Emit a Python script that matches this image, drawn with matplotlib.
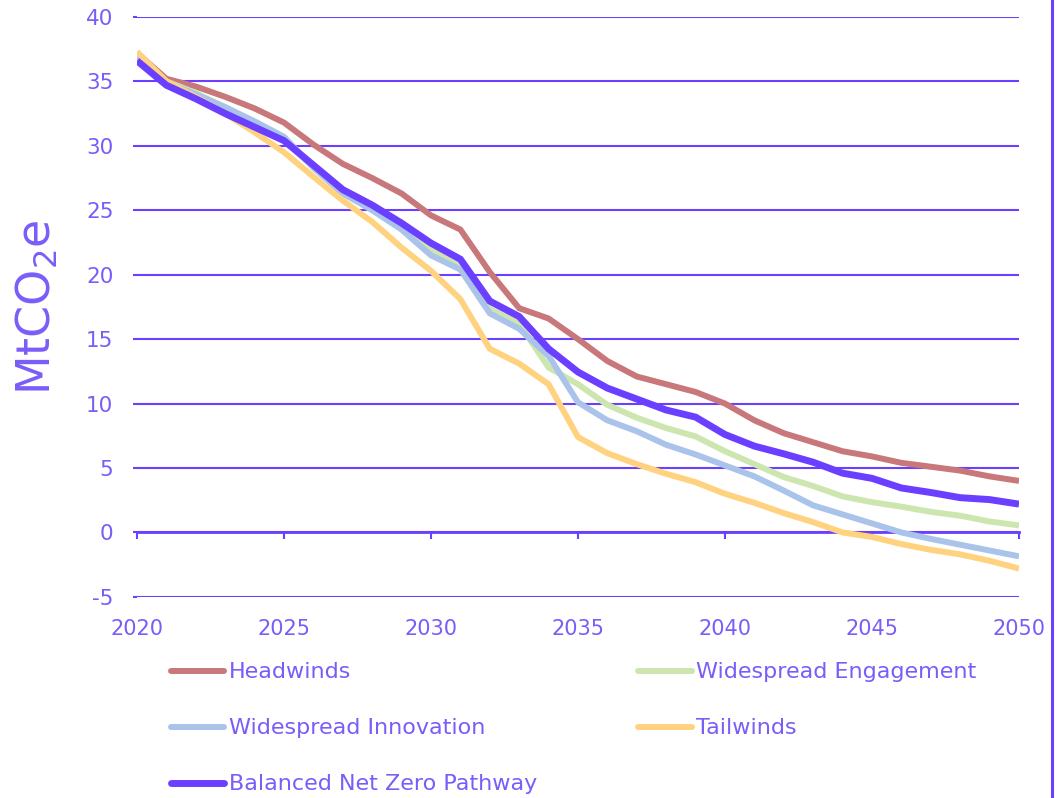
import matplotlib.pyplot as plt
from matplotlib.lines import Line2D

# Territorial emissions pathways, MtCO2e per year
years = list(range(2020, 2051))

headwinds = [37.2, 35.2, 34.6, 33.8, 32.9, 31.8, 30.1, 28.6, 27.5, 26.3,
             24.6, 23.5, 20.2, 17.4, 16.6, 15.0, 13.3, 12.1, 11.5, 10.9,
             10.0, 8.7, 7.7, 7.0, 6.3, 5.9, 5.4, 5.1, 4.8, 4.35, 4.0]
engagement = [37.1, 35.0, 34.1, 33.0, 31.8, 30.5, 28.3, 26.4, 25.1, 23.7,
              21.9, 20.7, 17.35, 16.2, 12.8, 11.5, 9.9, 8.9, 8.1, 7.45,
              6.3, 5.3, 4.3, 3.6, 2.8, 2.35, 2.0, 1.6, 1.3, 0.85, 0.55]
innovation = [37.0, 34.9, 34.0, 33.0, 31.9, 30.7, 28.3, 26.3, 25.0, 23.5,
              21.5, 20.4, 17.0, 15.8, 13.7, 10.1, 8.7, 7.85, 6.8, 6.05,
              5.2, 4.35, 3.25, 2.1, 1.4, 0.7, 0.0, -0.5, -0.95, -1.4, -1.85]
tailwinds = [37.3, 35.0, 33.8, 32.5, 31.05, 29.5, 27.6, 25.75, 24.1, 22.1,
             20.3, 18.1, 14.25, 13.1, 11.5, 7.4, 6.15, 5.3, 4.55, 3.9,
             3.0, 2.3, 1.5, 0.8, 0.0, -0.35, -0.9, -1.35, -1.7, -2.2, -2.8]
balanced = [36.6, 34.7, 33.65, 32.5, 31.45, 30.4, 28.5, 26.6, 25.4, 24.0,
            22.45, 21.2, 17.95, 16.75, 14.25, 12.45, 11.2, 10.35, 9.5, 8.95,
            7.6, 6.7, 6.1, 5.45, 4.6, 4.2, 3.45, 3.1, 2.7, 2.55, 2.2]

x_ticks = [2020, 2025, 2030, 2035, 2040, 2045, 2050]
y_ticks = [-5, 0, 5, 10, 15, 20, 25, 30, 35, 40]

PURPLE = "#6B3FFF"
TEXT = "#7A5CF8"

plt.rcParams['font.family'] = ['DejaVu Sans']
plt.rcParams['axes.unicode_minus'] = False

fig = plt.figure(figsize=(10.62, 7.98), dpi=100)
ax = fig.add_axes([0.129, 0.252, 0.8305, 0.7268])

series = [
    ("Headwinds", headwinds, "#C8777B", 4.3),
    ("Widespread Engagement", engagement, "#CDE6B0", 4.3),
    ("Widespread Innovation", innovation, "#A9C3EA", 4.3),
    ("Tailwinds", tailwinds, "#FFD27F", 4.3),
    ("Balanced Net Zero Pathway", balanced, PURPLE, 5.0),
]
lines = {}
for name, vals, color, lw in series:
    ln, = ax.plot(years, vals, color=color, lw=lw, solid_capstyle='butt',
                  solid_joinstyle='miter', label=name, zorder=3)
    lines[name] = ln

ax.set_xlim(2020, 2050)
ax.set_ylim(-5, 40)
ax.set_yticks(y_ticks)
ax.set_xticks(x_ticks)
ax.grid(axis='y', color=PURPLE, lw=1.5)
ax.set_axisbelow(True)
for s in ax.spines.values():
    s.set_visible(False)

ax.tick_params(axis='y', colors=TEXT, labelsize=15.5, length=3, width=1.5,
               pad=14, color=PURPLE)
ax.tick_params(axis='x', colors=TEXT, labelsize=15, length=0, pad=16)

# zero line carries the year tick marks
zero = ax.secondary_xaxis(5 / 45)
zero.set_xticks(x_ticks)
zero.tick_params(axis='x', length=5, width=1.5, color=PURPLE,
                 labelbottom=False, direction='out')
zero.spines['bottom'].set_color(PURPLE)
zero.spines['bottom'].set_linewidth(2)

ax.set_ylabel("MtCO$_2$e", color=TEXT, fontsize=33, labelpad=18)

leg_kw = dict(frameon=False, fontsize=16, handlelength=2.4,
              handletextpad=0.2, labelspacing=1.62, labelcolor=TEXT,
              borderpad=0, borderaxespad=0)
left_names = ["Headwinds", "Widespread Innovation", "Balanced Net Zero Pathway"]
right_names = ["Widespread Engagement", "Tailwinds"]
leg1 = fig.legend([lines[n] for n in left_names], left_names,
                  loc='upper left', bbox_to_anchor=(0.161, 0.170), **leg_kw)
leg2 = fig.legend([lines[n] for n in right_names], right_names,
                  loc='upper left', bbox_to_anchor=(0.601, 0.170), **leg_kw)
for leg in (leg1, leg2):
    for h in leg.legend_handles:
        h.set_solid_capstyle('round')

# border line on the right edge
fig.add_artist(Line2D([0.9905, 0.9905], [0, 1], transform=fig.transFigure,
                      color=PURPLE, lw=2.2))

fig.savefig("out.png", dpi=100)
